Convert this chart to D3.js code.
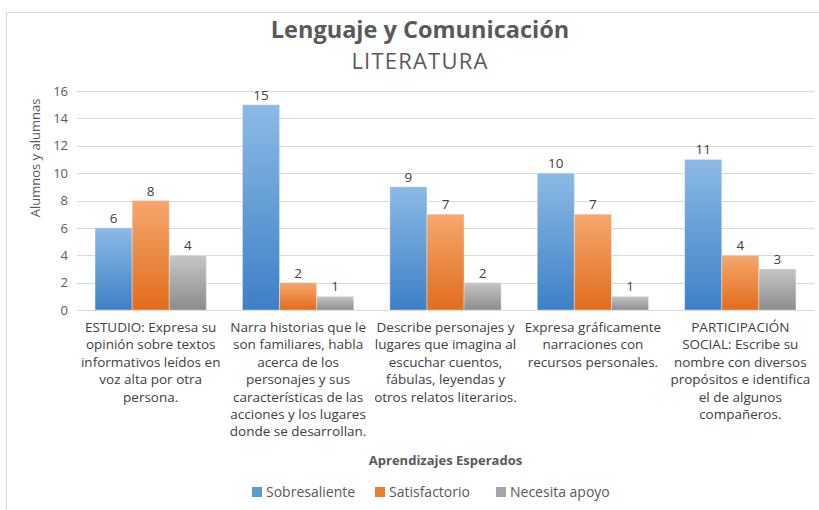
<!DOCTYPE html>
<html>
<head>
<meta charset="utf-8">
<script src="https://cdn.jsdelivr.net/npm/d3@7"></script>
<style>
  body { margin: 0; background: #fff; }
  svg { font-family: 'Open Sans', sans-serif; }
</style>
</head>
<body>
<svg width="819" height="510"></svg>
<script>
const categories = [
  ['ESTUDIO: Expresa su', 'opinión sobre textos', 'informativos leídos en', 'voz alta por otra', 'persona.'],
  ['Narra historias que le', 'son familiares, habla', 'acerca de los', 'personajes y sus', 'características de las', 'acciones y los lugares', 'donde se desarrollan.'],
  ['Describe personajes y', 'lugares que imagina al', 'escuchar cuentos,', 'fábulas, leyendas y', 'otros relatos literarios.'],
  ['Expresa gráficamente', 'narraciones con', 'recursos personales.'],
  ['PARTICIPACIÓN', 'SOCIAL: Escribe su', 'nombre con diversos', 'propósitos e identifica', 'el de algunos', 'compañeros.']
]
const seriesNames = ['Sobresaliente', 'Satisfactorio', 'Necesita apoyo']
const sobresaliente = [6, 15, 9, 10, 11]
const satisfactorio = [8, 2, 7, 7, 4]
const necesitaApoyo = [4, 1, 2, 1, 3]
const yTicks = [0, 2, 4, 6, 8, 10, 12, 14, 16]

const series = [sobresaliente, satisfactorio, necesitaApoyo]
const gradients = [
  ['#8cbae6', '#3d80c6'],
  ['#f5a86f', '#e26c1c'],
  ['#c6c6c6', '#8c8c8c']
]
const swatch = ['#5b9bd5', '#ed7d31', '#a5a5a5']

let svg = d3.select('svg')
const margin = { left: 77, right: 5, top: 91, bottom: 200 }
const width = +svg.attr('width')
const height = +svg.attr('height')
const plotBottom = 310

// chart frame
svg.append('rect')
  .attr('x', 6.5).attr('y', 12.5)
  .attr('width', 830).attr('height', 520)
  .attr('fill', '#fff')
  .attr('stroke', '#d9d9d9')

// gradients
const defs = svg.append('defs')
gradients.forEach((g, i) => {
  const lg = defs.append('linearGradient')
    .attr('id', 'grad' + i)
    .attr('x1', 0).attr('y1', 0).attr('x2', 0).attr('y2', 1)
  lg.append('stop').attr('offset', '0%').attr('stop-color', g[0])
  lg.append('stop').attr('offset', '100%').attr('stop-color', g[1])
})

const x = d3.scaleBand()
  .domain(d3.range(categories.length))
  .range([margin.left, width - margin.right])
  .paddingInner(0.245)
  .paddingOuter(0.1225)

const x1 = d3.scaleBand()
  .domain(d3.range(series.length))
  .range([0, x.bandwidth()])

const y = d3.scaleLinear()
  .domain([0, 16])
  .range([plotBottom, margin.top])

// gridlines
svg.append('g')
  .selectAll('line')
  .data(yTicks)
  .enter()
  .append('line')
  .attr('x1', margin.left)
  .attr('x2', width - margin.right)
  .attr('y1', d => Math.round(y(d)) + 0.5)
  .attr('y2', d => Math.round(y(d)) + 0.5)
  .attr('stroke', '#d9d9d9')
  .attr('stroke-width', 1)

// y axis labels
const yAxis = d3.axisLeft(y).tickValues(yTicks).tickSize(0).tickPadding(9)
svg.append('g')
  .attr('transform', `translate(${margin.left}, 0)`)
  .call(yAxis)
  .call(g => g.select('.domain').remove())
  .call(g => g.selectAll('text')
    .attr('font-family', "'Open Sans', sans-serif")
    .attr('font-size', 13)
    .attr('fill', '#595959'))

// bars
const groups = svg.append('g')
  .selectAll('g')
  .data(series)
  .enter()
  .append('g')
  .attr('fill', (d, i) => `url(#grad${i})`)

groups.selectAll('rect')
  .data((d, si) => d.map((v, ci) => ({ v, ci, si })))
  .enter()
  .append('rect')
  .attr('x', d => x(d.ci) + x1(d.si))
  .attr('y', d => y(d.v))
  .attr('width', x1.bandwidth())
  .attr('height', d => plotBottom - y(d.v))
  .attr('stroke', 'rgba(255,255,255,0.35)')
  .attr('stroke-width', 1)

// data labels
groups.selectAll('text')
  .data((d, si) => d.map((v, ci) => ({ v, ci, si })))
  .enter()
  .append('text')
  .attr('x', d => x(d.ci) + x1(d.si) + x1.bandwidth() / 2)
  .attr('y', d => y(d.v) - 5)
  .attr('text-anchor', 'middle')
  .attr('font-size', 13.5)
  .attr('fill', '#404040')
  .text(d => d.v)

// category labels
const catG = svg.append('g')
categories.forEach((lines, i) => {
  const t = catG.append('text')
    .attr('text-anchor', 'middle')
    .attr('font-size', 13.5)
    .attr('fill', '#404040')
  lines.forEach((line, j) => {
    t.append('tspan')
      .attr('x', x(i) + x.bandwidth() / 2)
      .attr('y', 332 + j * 17.4)
      .text(line)
  })
})

// titles
svg.append('text')
  .attr('x', 420).attr('y', 38)
  .attr('text-anchor', 'middle')
  .attr('font-size', 23.5)
  .attr('font-weight', 'bold')
  .attr('fill', '#595959')
  .text('Lenguaje y Comunicación')

svg.append('text')
  .attr('x', 420).attr('y', 69)
  .attr('text-anchor', 'middle')
  .attr('font-size', 22)
  .attr('letter-spacing', 1.2)
  .attr('fill', '#595959')
  .text('LITERATURA')

svg.append('text')
  .attr('transform', `translate(40, 158) rotate(-90)`)
  .attr('text-anchor', 'middle')
  .attr('font-size', 13)
  .attr('fill', '#595959')
  .text('Alumnos y alumnas')

svg.append('text')
  .attr('x', (margin.left + width - margin.right) / 2)
  .attr('y', 465)
  .attr('text-anchor', 'middle')
  .attr('font-size', 13)
  .attr('font-weight', 'bold')
  .attr('fill', '#595959')
  .text('Aprendizajes Esperados')

// legend
const legendX = [252, 375, 496]
let legend = svg.append('g').attr('id', 'legend')
seriesNames.forEach((name, i) => {
  legend.append('rect')
    .attr('x', legendX[i]).attr('y', 487)
    .attr('width', 10).attr('height', 10)
    .attr('fill', swatch[i])
  legend.append('text')
    .attr('x', legendX[i] + 14).attr('y', 497)
    .attr('font-size', 14)
    .attr('fill', '#595959')
    .text(name)
})
</script>
</body>
</html>
